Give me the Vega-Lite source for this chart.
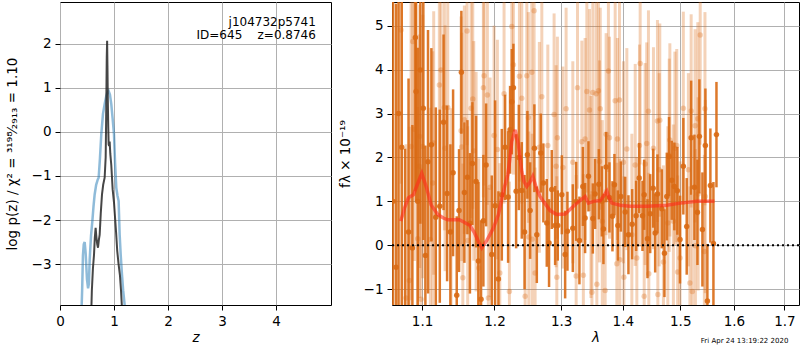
{
"$schema": "https://vega.github.io/schema/vega-lite/v6.json",
"padding": {"left": 4, "top": 1, "right": 0, "bottom": 0},
"spacing": 5,
"config": {
 "font": "DejaVu Sans",
 "concat": {"spacing": 5},
 "view": {"stroke": "black", "strokeWidth": 1},
 "axis": {"domain": false, "grid": true, "gridColor": "#b0b0b0", "gridWidth": 1, "tickColor": "black", "tickSize": 5, "labelPadding": 4, "labelFont": "DejaVu Sans", "labelFontSize": 13.5, "labelColor": "black", "titleFont": "DejaVu Sans", "titleFontSize": 13.5, "titleFontWeight": "normal", "titleColor": "black", "labelFlush": false},
 "axisY": {"titlePadding": 12},
 "axisX": {"titlePadding": 3}
},
"datasets": {
 "blue": [{"z":0.395,"lp":-4.2},{"z":0.41,"lp":-3.6},{"z":0.425,"lp":-2.8},{"z":0.44,"lp":-2.55},{"z":0.457,"lp":-2.5},{"z":0.475,"lp":-2.75},{"z":0.5,"lp":-3.35},{"z":0.52,"lp":-3.55},{"z":0.535,"lp":-3.45},{"z":0.55,"lp":-2.9},{"z":0.575,"lp":-2.35},{"z":0.599,"lp":-2.03},{"z":0.62,"lp":-1.7},{"z":0.642,"lp":-1.42},{"z":0.67,"lp":-1.2},{"z":0.7,"lp":-1.08},{"z":0.716,"lp":-1.04},{"z":0.74,"lp":-0.6},{"z":0.765,"lp":-0.05},{"z":0.796,"lp":0.41},{"z":0.83,"lp":0.65},{"z":0.858,"lp":0.82},{"z":0.88,"lp":0.9},{"z":0.901,"lp":0.93},{"z":0.925,"lp":0.85},{"z":0.95,"lp":0.63},{"z":0.975,"lp":0.3},{"z":1.0,"lp":-0.05},{"z":1.02,"lp":-0.7},{"z":1.043,"lp":-1.27},{"z":1.065,"lp":-1.45},{"z":1.086,"lp":-1.57},{"z":1.105,"lp":-2.33},{"z":1.125,"lp":-2.8},{"z":1.148,"lp":-3.24},{"z":1.17,"lp":-3.6},{"z":1.198,"lp":-3.93},{"z":1.21,"lp":-4.3}],
 "dark": [{"z":0.575,"lp":-4.3},{"z":0.59,"lp":-3.6},{"z":0.61,"lp":-3.1},{"z":0.63,"lp":-2.79},{"z":0.645,"lp":-2.4},{"z":0.66,"lp":-2.18},{"z":0.675,"lp":-2.4},{"z":0.69,"lp":-2.55},{"z":0.704,"lp":-2.63},{"z":0.72,"lp":-2.45},{"z":0.735,"lp":-2.33},{"z":0.755,"lp":-1.85},{"z":0.778,"lp":-1.42},{"z":0.8,"lp":-1.2},{"z":0.827,"lp":-1.04},{"z":0.846,"lp":-0.58},{"z":0.852,"lp":0.0},{"z":0.858,"lp":0.7},{"z":0.866,"lp":1.7},{"z":0.873,"lp":2.07},{"z":0.879,"lp":1.5},{"z":0.886,"lp":0.7},{"z":0.894,"lp":0.1},{"z":0.901,"lp":-0.28},{"z":0.91,"lp":-0.32},{"z":0.92,"lp":-0.22},{"z":0.932,"lp":-0.5},{"z":0.95,"lp":-0.75},{"z":0.975,"lp":-1.3},{"z":1.0,"lp":-1.6},{"z":1.02,"lp":-1.95},{"z":1.04,"lp":-2.3},{"z":1.06,"lp":-2.7},{"z":1.085,"lp":-3.0},{"z":1.11,"lp":-3.25},{"z":1.13,"lp":-3.6},{"z":1.145,"lp":-3.93},{"z":1.155,"lp":-4.3}],
 "sdark": [{"l":1.0623,"f":1.0,"e":6},{"l":1.0662,"f":-0.5,"e":6},{"l":1.0694,"f":3.0,"e":5},{"l":1.0735,"f":2.23,"e":4.5},{"l":1.0778,"f":-1.8,"e":4},{"l":1.0823,"f":0.3,"e":3.5},{"l":1.0873,"f":-0.06,"e":2.8},{"l":1.0912,"f":4.73,"e":3.5},{"l":1.0921,"f":3.5,"e":2.5},{"l":1.0943,"f":1.0,"e":3.5},{"l":1.0978,"f":3.99,"e":3.5},{"l":1.1017,"f":3.12,"e":3},{"l":1.1044,"f":-0.23,"e":2.5},{"l":1.1079,"f":1.9,"e":3},{"l":1.1124,"f":2.29,"e":2.2},{"l":1.1183,"f":0.64,"e":2.5},{"l":1.1237,"f":0.89,"e":2.2},{"l":1.1288,"f":2.8,"e":2},{"l":1.1336,"f":1.18,"e":2},{"l":1.1381,"f":0.3,"e":2},{"l":1.1418,"f":1.65,"e":1.9},{"l":1.1468,"f":-1.14,"e":1.8},{"l":1.15,"f":0.79,"e":1.4},{"l":1.1532,"f":3.94,"e":1.4},{"l":1.1574,"f":1.2,"e":1.6},{"l":1.1616,"f":1.55,"e":1.3},{"l":1.1651,"f":0.5,"e":1.6},{"l":1.1686,"f":1.86,"e":1.4},{"l":1.1738,"f":1.45,"e":1.5},{"l":1.177,"f":-0.36,"e":1.8},{"l":1.1808,"f":-1.23,"e":1.8},{"l":1.1841,"f":0.56,"e":1.5},{"l":1.188,"f":1.83,"e":1.4},{"l":1.1961,"f":-0.21,"e":1.8},{"l":1.2009,"f":0.9,"e":2.4},{"l":1.2057,"f":-0.77,"e":2.0},{"l":1.2106,"f":1.15,"e":1.5},{"l":1.2154,"f":2.23,"e":1.2},{"l":1.2198,"f":1.1,"e":1.5},{"l":1.2227,"f":2.63,"e":1.0},{"l":1.2252,"f":3.27,"e":1.2},{"l":1.2276,"f":3.59,"e":1.0},{"l":1.2316,"f":1.23,"e":1.3},{"l":1.2356,"f":2.0,"e":1.2},{"l":1.24,"f":1.25,"e":1.1},{"l":1.2442,"f":0.3,"e":1.3},{"l":1.2484,"f":2.06,"e":1.0},{"l":1.2525,"f":0.79,"e":1.1},{"l":1.2589,"f":2.21,"e":1.0},{"l":1.2626,"f":0.24,"e":1.1},{"l":1.2686,"f":2.1,"e":0.9},{"l":1.2726,"f":1.42,"e":0.9},{"l":1.2778,"f":0.51,"e":1.0},{"l":1.2813,"f":0.05,"e":1.0},{"l":1.2855,"f":1.27,"e":0.9},{"l":1.2907,"f":0.45,"e":0.9},{"l":1.2948,"f":0.45,"e":0.8},{"l":1.3011,"f":1.15,"e":0.9},{"l":1.3063,"f":-0.21,"e":1.0},{"l":1.3099,"f":0.32,"e":0.9},{"l":1.3184,"f":0.39,"e":1.0},{"l":1.3237,"f":1.0,"e":0.9},{"l":1.3289,"f":0.11,"e":1.0},{"l":1.3344,"f":1.34,"e":0.9},{"l":1.338,"f":0.62,"e":0.8},{"l":1.3434,"f":1.57,"e":0.8},{"l":1.3505,"f":0.61,"e":0.8},{"l":1.3542,"f":1.17,"e":0.8},{"l":1.3603,"f":1.39,"e":0.8},{"l":1.3652,"f":1.0,"e":0.8},{"l":1.3678,"f":0.37,"e":0.8},{"l":1.3722,"f":1.78,"e":0.8},{"l":1.3777,"f":1.09,"e":0.8},{"l":1.3827,"f":0.66,"e":0.8},{"l":1.386,"f":1.38,"e":0.7},{"l":1.3917,"f":0.45,"e":0.8},{"l":1.3967,"f":1.11,"e":0.8},{"l":1.404,"f":0.76,"e":0.8},{"l":1.4095,"f":0.24,"e":0.9},{"l":1.4158,"f":0.48,"e":0.8},{"l":1.4226,"f":0.67,"e":0.8},{"l":1.4278,"f":1.53,"e":0.8},{"l":1.4335,"f":0.67,"e":0.8},{"l":1.4364,"f":1.15,"e":0.8},{"l":1.4421,"f":0.15,"e":0.9},{"l":1.4468,"f":0.72,"e":0.9},{"l":1.452,"f":1.3,"e":0.9},{"l":1.4555,"f":0.28,"e":0.9},{"l":1.4595,"f":1.17,"e":0.9},{"l":1.4672,"f":0.83,"e":0.9},{"l":1.4718,"f":-0.18,"e":1.0},{"l":1.476,"f":1.11,"e":1.0},{"l":1.48,"f":2.02,"e":0.9},{"l":1.4848,"f":1.48,"e":0.9},{"l":1.4894,"f":1.34,"e":1.0},{"l":1.4948,"f":1.24,"e":1.0},{"l":1.4996,"f":0.13,"e":1.0},{"l":1.5056,"f":1.8,"e":1.1},{"l":1.5117,"f":0.43,"e":1.1},{"l":1.5198,"f":2.45,"e":1.3},{"l":1.5258,"f":1.32,"e":1.2},{"l":1.5313,"f":0.75,"e":1.2},{"l":1.5349,"f":2.48,"e":1.3},{"l":1.5405,"f":0.36,"e":1.3},{"l":1.546,"f":2.27,"e":1.3},{"l":1.5497,"f":-1.27,"e":1.3},{"l":1.5553,"f":1.36,"e":1.3},{"l":1.561,"f":0.04,"e":1.4},{"l":1.5667,"f":2.52,"e":1.2}],
 "slight": [{"l":1.0726,"f":4.9,"e":3.5},{"l":1.079,"f":-1.2,"e":3.5},{"l":1.0833,"f":-0.8,"e":3.5},{"l":1.0856,"f":2.25,"e":3.5},{"l":1.0878,"f":4.64,"e":3.5},{"l":1.0899,"f":2.64,"e":3},{"l":1.0943,"f":0.15,"e":3},{"l":1.0964,"f":1.8,"e":3},{"l":1.097,"f":2.48,"e":3},{"l":1.0987,"f":-1.23,"e":3},{"l":1.1009,"f":2.25,"e":3},{"l":1.111,"f":0.13,"e":3},{"l":1.1142,"f":1.42,"e":3},{"l":1.1155,"f":2.33,"e":3},{"l":1.1231,"f":3.65,"e":3},{"l":1.1254,"f":3.99,"e":3},{"l":1.1299,"f":3.14,"e":2.8},{"l":1.1308,"f":2.21,"e":2.8},{"l":1.1345,"f":3.14,"e":2.8},{"l":1.139,"f":0.32,"e":2.8},{"l":1.1528,"f":2.61,"e":2.6},{"l":1.1537,"f":2.24,"e":2.6},{"l":1.1552,"f":-0.74,"e":2.6},{"l":1.1574,"f":2.86,"e":2.6},{"l":1.1611,"f":4.88,"e":2.6},{"l":1.162,"f":0.11,"e":2.6},{"l":1.1667,"f":3.12,"e":2.5},{"l":1.1691,"f":3.33,"e":2.5},{"l":1.1705,"f":2.15,"e":2.5},{"l":1.1738,"f":1.45,"e":2.5},{"l":1.1776,"f":-0.52,"e":2.5},{"l":1.1841,"f":3.59,"e":2.5},{"l":1.1851,"f":3.86,"e":2.5},{"l":1.1898,"f":3.42,"e":2.5},{"l":1.1912,"f":-1.2,"e":2.5},{"l":1.1937,"f":1.32,"e":2.5},{"l":1.1994,"f":2.5,"e":2.5},{"l":1.2042,"f":2.18,"e":2.5},{"l":1.2077,"f":-0.63,"e":2.5},{"l":1.2139,"f":3.45,"e":2.5},{"l":1.2217,"f":-1.05,"e":2.5},{"l":1.2252,"f":4.98,"e":2.5},{"l":1.2276,"f":4.11,"e":2.5},{"l":1.2365,"f":3.85,"e":2.4},{"l":1.24,"f":3.35,"e":2.4},{"l":1.245,"f":-1.16,"e":2.4},{"l":1.2475,"f":3.86,"e":2.4},{"l":1.2499,"f":2.91,"e":2.4},{"l":1.2505,"f":0.19,"e":2.4},{"l":1.255,"f":3.94,"e":2.4},{"l":1.2556,"f":0.14,"e":2.4},{"l":1.2585,"f":5.34,"e":2.4},{"l":1.26,"f":-0.63,"e":2.4},{"l":1.2665,"f":2.23,"e":2.4},{"l":1.2702,"f":3.38,"e":2.4},{"l":1.2794,"f":2.27,"e":2.3},{"l":1.2891,"f":2.98,"e":2.3},{"l":1.2922,"f":1.8,"e":2.3},{"l":1.2933,"f":-0.73,"e":2.3},{"l":1.2942,"f":2.45,"e":2.3},{"l":1.3027,"f":1.77,"e":2.3},{"l":1.3078,"f":3.11,"e":2.3},{"l":1.3184,"f":1.89,"e":2.3},{"l":1.3237,"f":-0.7,"e":2.3},{"l":1.3258,"f":3.59,"e":2.3},{"l":1.3328,"f":2.36,"e":2.3},{"l":1.3352,"f":-0.68,"e":2.3},{"l":1.338,"f":2.42,"e":2.3},{"l":1.3408,"f":3.5,"e":2.3},{"l":1.3451,"f":3.08,"e":2.3},{"l":1.3474,"f":1.1,"e":2.3},{"l":1.349,"f":-1.07,"e":2.3},{"l":1.3505,"f":3.48,"e":2.3},{"l":1.3559,"f":3.45,"e":2.3},{"l":1.357,"f":-0.89,"e":2.3},{"l":1.3596,"f":3.52,"e":2.3},{"l":1.3614,"f":1.91,"e":2.3},{"l":1.3626,"f":3.11,"e":2.3},{"l":1.3659,"f":0.55,"e":2.3},{"l":1.3706,"f":-1.03,"e":2.3},{"l":1.3722,"f":2.53,"e":2.3},{"l":1.376,"f":3.97,"e":2.3},{"l":1.3778,"f":2.45,"e":2.3},{"l":1.3872,"f":3.29,"e":2.3},{"l":1.39,"f":-0.42,"e":2.3},{"l":1.391,"f":2.42,"e":2.3},{"l":1.3944,"f":3.31,"e":2.3},{"l":1.395,"f":-0.33,"e":2.3},{"l":1.4011,"f":1.89,"e":2.3},{"l":1.4018,"f":-0.73,"e":2.3},{"l":1.4068,"f":2.19,"e":2.3},{"l":1.4153,"f":0.24,"e":2.3},{"l":1.421,"f":1.83,"e":2.3},{"l":1.4238,"f":-0.29,"e":2.3},{"l":1.4283,"f":2.27,"e":2.3},{"l":1.4295,"f":4.14,"e":2.3},{"l":1.4364,"f":-1.16,"e":2.3},{"l":1.4381,"f":1.85,"e":2.3},{"l":1.4408,"f":2.32,"e":2.3},{"l":1.4438,"f":3.05,"e":2.3},{"l":1.4444,"f":-0.65,"e":2.3},{"l":1.4525,"f":2.21,"e":2.3},{"l":1.4595,"f":2.83,"e":2.3},{"l":1.4602,"f":-1.12,"e":2.3},{"l":1.4625,"f":1.72,"e":2.2},{"l":1.4636,"f":2.85,"e":2.2},{"l":1.47,"f":-0.38,"e":2.2},{"l":1.4778,"f":0.51,"e":2.2},{"l":1.4803,"f":2.05,"e":2.2},{"l":1.4814,"f":2.4,"e":2.2},{"l":1.4877,"f":0.55,"e":2.2},{"l":1.4904,"f":2.21,"e":2.2},{"l":1.4937,"f":2.27,"e":2.2},{"l":1.4953,"f":-0.61,"e":2.2},{"l":1.4996,"f":-0.29,"e":2.2},{"l":1.5056,"f":3.12,"e":2.2},{"l":1.5147,"f":1.72,"e":2.2},{"l":1.5175,"f":-0.86,"e":2.2},{"l":1.5198,"f":3.06,"e":2.2},{"l":1.5219,"f":-1.05,"e":2.2},{"l":1.527,"f":2.72,"e":2.2},{"l":1.5276,"f":-0.01,"e":2.2},{"l":1.532,"f":2.88,"e":2.2},{"l":1.5326,"f":1.17,"e":2.2},{"l":1.5364,"f":4.79,"e":2.5},{"l":1.5441,"f":-0.14,"e":2.2},{"l":1.5452,"f":3.11,"e":2.2},{"l":1.5458,"f":1.11,"e":2.2}],
 "model": [{"l":1.0722,"f":0.55},{"l":1.0771,"f":0.85},{"l":1.082,"f":1.08},{"l":1.0886,"f":1.15},{"l":1.0941,"f":1.4},{"l":1.0996,"f":1.64},{"l":1.1062,"f":1.3},{"l":1.112,"f":0.92},{"l":1.121,"f":0.7},{"l":1.1285,"f":0.62},{"l":1.1345,"f":0.58},{"l":1.1422,"f":0.58},{"l":1.1504,"f":0.58},{"l":1.1577,"f":0.52},{"l":1.1651,"f":0.45},{"l":1.1709,"f":0.3},{"l":1.1747,"f":0.17},{"l":1.178,"f":0.05},{"l":1.1818,"f":-0.06},{"l":1.1851,"f":0.02},{"l":1.189,"f":0.11},{"l":1.1937,"f":0.25},{"l":1.1984,"f":0.39},{"l":1.2057,"f":0.7},{"l":1.2129,"f":1.23},{"l":1.2194,"f":1.61},{"l":1.2223,"f":1.95},{"l":1.2252,"f":2.36},{"l":1.2301,"f":2.63},{"l":1.235,"f":2.29},{"l":1.24,"f":1.68},{"l":1.2434,"f":1.45},{"l":1.2475,"f":1.34},{"l":1.2516,"f":1.42},{"l":1.2565,"f":1.57},{"l":1.2626,"f":1.27},{"l":1.2673,"f":1.12},{"l":1.2726,"f":1.0},{"l":1.2829,"f":0.79},{"l":1.2933,"f":0.7},{"l":1.3063,"f":0.71},{"l":1.3194,"f":0.89},{"l":1.33,"f":1.02},{"l":1.338,"f":1.11},{"l":1.3434,"f":0.96},{"l":1.3515,"f":1.0},{"l":1.3624,"f":1.02},{"l":1.368,"f":1.12},{"l":1.3734,"f":1.23},{"l":1.3771,"f":1.08},{"l":1.3817,"f":0.96},{"l":1.3956,"f":0.91},{"l":1.4124,"f":0.89},{"l":1.4411,"f":0.89},{"l":1.476,"f":0.91},{"l":1.4999,"f":0.96},{"l":1.5303,"f":1.0},{"l":1.5629,"f":1.0}]
},
"hconcat": [
 {
  "width": 271, "height": 303,
  "layer": [
   {"data": {"name": "blue"},
    "mark": {"type": "line", "color": "#1f77b4", "opacity": 0.5, "strokeWidth": 2.5, "clip": true},
    "encoding": {
     "x": {"field": "z", "type": "quantitative", "title": "z", "scale": {"domain": [0, 5.02], "nice": false, "zero": false}, "axis": {"values": [0, 1, 2, 3, 4], "format": "d", "titleFontStyle": "italic"}},
     "y": {"field": "lp", "type": "quantitative", "title": "log p(z) / χ² = ³¹⁹⁸⁄₂₉₁₃ = 1.10", "scale": {"domain": [-3.93, 2.95], "nice": false, "zero": false}, "axis": {"values": [-3, -2, -1, 0, 1, 2], "format": "d"}}
    }},
   {"data": {"name": "dark"},
    "mark": {"type": "line", "color": "#262626", "opacity": 0.85, "strokeWidth": 2, "clip": true},
    "encoding": {
     "x": {"field": "z", "type": "quantitative", "title": "z"},
     "y": {"field": "lp", "type": "quantitative", "title": "log p(z) / χ² = ³¹⁹⁸⁄₂₉₁₃ = 1.10"}
    }},
   {"data": {"values": [{}]},
    "mark": {"type": "text", "text": "j104732p5741", "align": "right", "baseline": "middle", "fontSize": 12, "color": "black"},
    "encoding": {"x": {"datum": 4.74, "type": "quantitative"}, "y": {"datum": 2.5, "type": "quantitative"}}},
   {"data": {"values": [{}]},
    "mark": {"type": "text", "text": "ID=645\u00a0\u00a0\u00a0\u00a0z=0.8746", "align": "right", "baseline": "middle", "fontSize": 12, "color": "black"},
    "encoding": {"x": {"datum": 4.74, "type": "quantitative"}, "y": {"datum": 2.19, "type": "quantitative"}}}
  ]
 },
 {
  "width": 407, "height": 303,
  "layer": [
   {"data": {"name": "slight"},
    "mark": {"type": "errorbar", "color": "#d96a14", "opacity": 0.3, "thickness": 3, "clip": true},
    "encoding": {
     "x": {"field": "l", "type": "quantitative", "title": "λ", "scale": {"type": "log", "domain": [1.061, 1.73], "nice": false, "zero": false}, "axis": {"values": [1.1, 1.2, 1.3, 1.4, 1.5, 1.6, 1.7], "format": ".1f", "titleFontStyle": "italic"}},
     "y": {"field": "f", "type": "quantitative", "title": "fλ × 10⁻¹⁹", "scale": {"domain": [-1.36, 5.54], "nice": false, "zero": false}, "axis": {"values": [-1, 0, 1, 2, 3, 4, 5], "format": "d", "titleX": -40}},
     "yError": {"field": "e"}
    }},
   {"data": {"name": "slight"},
    "mark": {"type": "circle", "color": "#d96a14", "opacity": 0.3, "size": 30, "clip": true},
    "encoding": {
     "x": {"field": "l", "type": "quantitative", "title": "λ"},
     "y": {"field": "f", "type": "quantitative", "title": "fλ × 10⁻¹⁹"}
    }},
   {"data": {"name": "sdark"},
    "mark": {"type": "errorbar", "color": "#d96a14", "opacity": 0.9, "thickness": 2.5, "clip": true},
    "encoding": {
     "x": {"field": "l", "type": "quantitative", "title": "λ"},
     "y": {"field": "f", "type": "quantitative", "title": "fλ × 10⁻¹⁹"},
     "yError": {"field": "e"}
    }},
   {"data": {"name": "sdark"},
    "mark": {"type": "circle", "color": "#d96a14", "opacity": 0.9, "size": 30, "clip": true},
    "encoding": {
     "x": {"field": "l", "type": "quantitative", "title": "λ"},
     "y": {"field": "f", "type": "quantitative", "title": "fλ × 10⁻¹⁹"}
    }},
   {"data": {"name": "model"},
    "mark": {"type": "line", "color": "#ff2a1a", "opacity": 0.6, "strokeWidth": 3.5, "clip": true},
    "encoding": {
     "x": {"field": "l", "type": "quantitative", "title": "λ"},
     "y": {"field": "f", "type": "quantitative", "title": "fλ × 10⁻¹⁹"}
    }},
   {"data": {"values": [{}]},
    "mark": {"type": "rule", "color": "black", "strokeWidth": 2, "strokeDash": [2, 3]},
    "encoding": {"y": {"datum": 0, "type": "quantitative"}}},
   {"data": {"values": [{}]},
    "mark": {"type": "text", "text": "Fri Apr 24 13:19:22 2020", "align": "right", "baseline": "middle", "fontSize": 7, "color": "black"},
    "encoding": {"x": {"datum": 1.708, "type": "quantitative"}, "y": {"datum": -2.18, "type": "quantitative"}}}
  ]
 }
]
}
